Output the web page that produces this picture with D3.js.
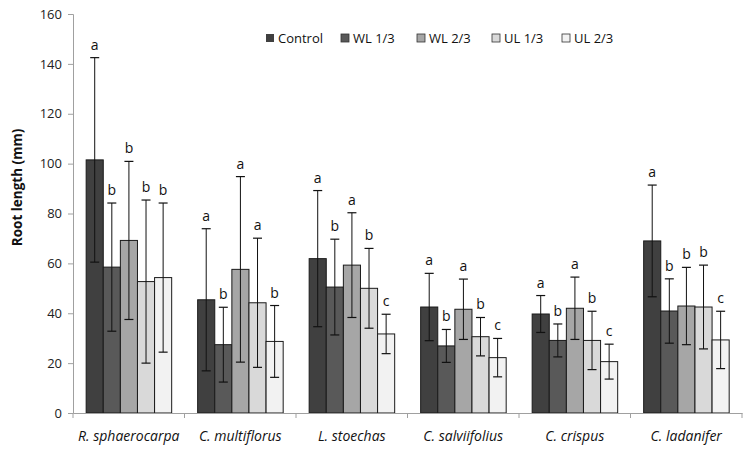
<!DOCTYPE html>
<html>
<head>
<meta charset="utf-8">
<script src="https://cdn.jsdelivr.net/npm/d3@7"></script>
<style>
  html, body { margin: 0; padding: 0; background: #fff; }
  svg { display: block; font-family: "Open Sans", "DejaVu Sans", sans-serif; }
</style>
</head>
<body>
<svg id="chart" width="750" height="451"></svg>
<script>
// ---- data ----
const categories = ["R. sphaerocarpa", "C. multiflorus", "L. stoechas", "C. salviifolius", "C. crispus", "C. ladanifer"];
const seriesNames = ["Control", "WL 1/3", "WL 2/3", "UL 1/3", "UL 2/3"];
const seriesColors = ["#404040", "#595959", "#a6a6a6", "#d9d9d9", "#f2f2f2"];
// mean values, one array per series (in category order)
const controlVals = [101.5, 45.4, 61.9, 42.5, 39.7, 69.0];
const wl13Vals    = [58.5, 27.4, 50.5, 26.9, 29.1, 40.9];
const wl23Vals    = [69.2, 57.6, 59.3, 41.6, 42.0, 42.9];
const ul13Vals    = [52.7, 44.2, 50.0, 30.6, 29.1, 42.5];
const ul23Vals    = [54.3, 28.7, 31.7, 22.2, 20.6, 29.3];
// standard deviations (error bar half-lengths)
const controlErr = [41.0, 28.5, 27.3, 13.5, 7.4, 22.4];
const wl13Err    = [25.7, 15.0, 19.2, 6.6, 6.6, 12.9];
const wl23Err    = [31.7, 37.2, 21.0, 12.1, 12.5, 15.5];
const ul13Err    = [32.7, 25.9, 16.0, 7.7, 11.7, 16.8];
const ul23Err    = [29.9, 14.4, 7.9, 7.7, 7.0, 11.5];
// significance letters
const controlLet = ["a", "a", "a", "a", "a", "a"];
const wl13Let    = ["b", "b", "b", "b", "b", "b"];
const wl23Let    = ["b", "a", "a", "a", "a", "b"];
const ul13Let    = ["b", "a", "b", "b", "b", "b"];
const ul23Let    = ["b", "b", "c", "c", "c", "c"];
const yTicks = [0, 20, 40, 60, 80, 100, 120, 140, 160];
const yTitle = "Root length (mm)";

(function () {
const valsBySeries = [controlVals, wl13Vals, wl23Vals, ul13Vals, ul23Vals];
const errBySeries  = [controlErr, wl13Err, wl23Err, ul13Err, ul23Err];
const letBySeries  = [controlLet, wl13Let, wl23Let, ul13Let, ul23Let];

const records = [];
categories.forEach((c, ci) => {
  seriesNames.forEach((s, si) => {
    records.push({cat: c, series: s, si,
      value: valsBySeries[si][ci], err: errBySeries[si][ci], letter: letBySeries[si][ci]});
  });
});

// ---- layout ----
const svg = d3.select("#chart");
const mLeft = 73, mRight = 742, mTop = 14, mBottom = 413;

const x0 = d3.scaleBand().domain(categories).range([mLeft, mRight]).paddingInner(0).paddingOuter(0);
const bw = x0.bandwidth();
const x1 = d3.scaleBand().domain(seriesNames).range([bw * 0.118, bw * 0.885]).padding(0);
const y = d3.scaleLinear().domain([0, 160]).range([mBottom, mTop]);
const color = d3.scaleOrdinal().domain(seriesNames).range(seriesColors);

// y axis
const yAxis = svg.append("g").attr("transform", `translate(${mLeft},0)`)
  .call(d3.axisLeft(y).tickValues(yTicks).tickSize(5).tickPadding(6));
yAxis.select(".domain").attr("stroke", "#a0a0a0");
yAxis.selectAll(".tick line").attr("stroke", "#a0a0a0");
yAxis.selectAll(".tick text").attr("font-size", 13).attr("fill", "#222")
  .attr("font-family", "'Open Sans', sans-serif");

// y title
svg.append("text")
  .attr("transform", `translate(22,${(mTop + mBottom) / 2 - 26}) rotate(-90)`)
  .attr("text-anchor", "middle")
  .attr("font-size", 13.5).attr("font-weight", "bold").attr("fill", "#111")
  .text(yTitle);

// bars
const groups = svg.append("g").selectAll("g").data(categories).join("g")
  .attr("transform", d => `translate(${x0(d)},0)`);

groups.selectAll("rect").data(c => records.filter(r => r.cat === c)).join("rect")
  .attr("x", d => x1(d.series))
  .attr("width", x1.bandwidth())
  .attr("y", d => y(d.value))
  .attr("height", d => y(0) - y(d.value))
  .attr("fill", d => color(d.series))
  .attr("stroke", "#1a1a1a").attr("stroke-width", 1);

// error bars
const eb = groups.selectAll("g.err").data(c => records.filter(r => r.cat === c)).join("g").attr("class", "err");
const capW = 4.5;
const cx = d => x1(d.series) + x1.bandwidth() / 2;
eb.append("line")
  .attr("x1", cx).attr("x2", cx)
  .attr("y1", d => y(d.value + d.err)).attr("y2", d => y(d.value - d.err))
  .attr("stroke", "#111").attr("stroke-width", 1);
eb.append("line")
  .attr("x1", d => cx(d) - capW).attr("x2", d => cx(d) + capW)
  .attr("y1", d => y(d.value + d.err)).attr("y2", d => y(d.value + d.err))
  .attr("stroke", "#111").attr("stroke-width", 1.2);
eb.append("line")
  .attr("x1", d => cx(d) - capW).attr("x2", d => cx(d) + capW)
  .attr("y1", d => y(d.value - d.err)).attr("y2", d => y(d.value - d.err))
  .attr("stroke", "#111").attr("stroke-width", 1.2);
eb.append("text")
  .attr("x", cx)
  .attr("y", d => y(d.value + d.err) - 8)
  .attr("text-anchor", "middle")
  .attr("font-size", 14).attr("fill", "#111")
  .text(d => d.letter);

// x axis
const xAxis = svg.append("g").attr("transform", `translate(0,${mBottom})`)
  .call(d3.axisBottom(x0).tickSize(0).tickPadding(18));
xAxis.select(".domain").attr("stroke", "#a0a0a0");
xAxis.selectAll(".tick text").attr("font-size", 14).attr("font-style", "italic").attr("fill", "#111")
  .attr("font-family", "'Open Sans', sans-serif");
const bounds = categories.map(c => x0(c)).concat([mRight]);
xAxis.selectAll("line.bound").data(bounds).join("line").attr("class", "bound")
  .attr("x1", d => d).attr("x2", d => d).attr("y1", 0).attr("y2", 5)
  .attr("stroke", "#a0a0a0");

// legend
const legend = svg.append("g").attr("transform", "translate(266,38)");
const legX = [0, 75, 151, 226, 296];
seriesNames.forEach((s, i) => {
  const g = legend.append("g").attr("transform", `translate(${legX[i]},0)`);
  g.append("rect").attr("x", 0).attr("y", -4).attr("width", 8).attr("height", 8)
    .attr("fill", color(s)).attr("stroke", i === 0 ? "none" : "#333").attr("stroke-width", 0.8);
  g.append("text").attr("x", 12).attr("y", 0).attr("dy", "0.35em")
    .attr("font-size", 13).attr("fill", "#111").text(s);
});
})();
</script>
</body>
</html>
